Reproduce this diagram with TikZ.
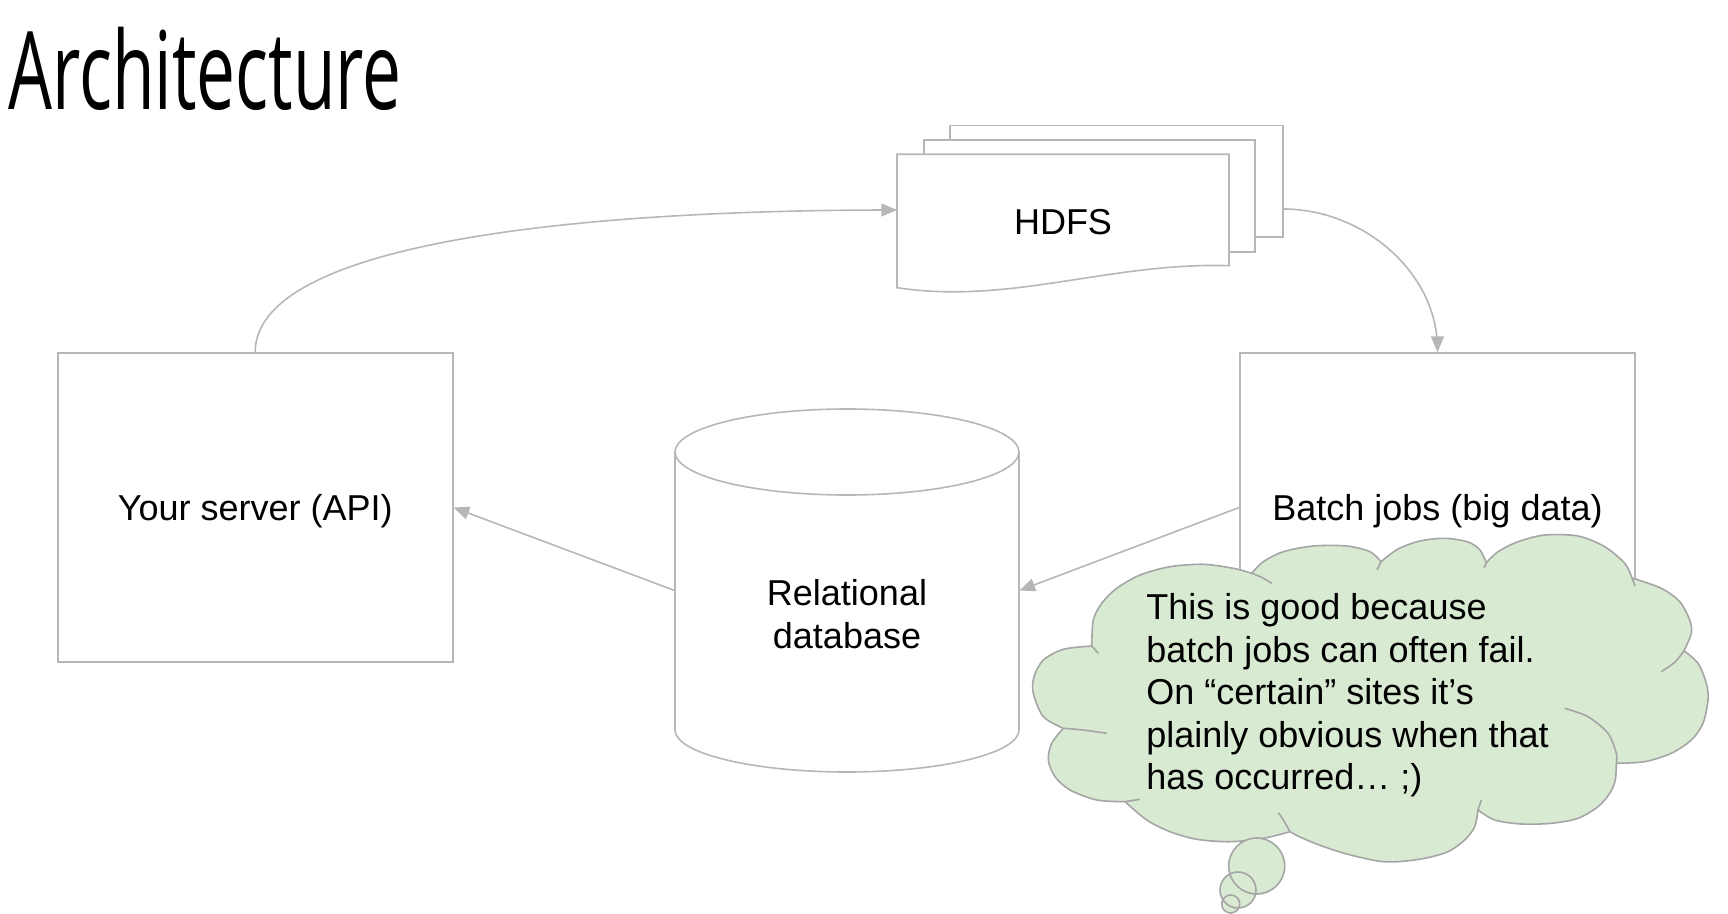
\documentclass[tikz,border=0pt]{standalone}
\usepackage{fontspec}
\setmainfont{Liberation Sans}
\newfontfamily\titlefont[FakeStretch=0.64]{Open Sans}
\usetikzlibrary{arrows}

\definecolor{linegray}{HTML}{B7B7B7}
\definecolor{cloudgray}{HTML}{A5A5A5}
\definecolor{cloudgreen}{HTML}{D9EAD3}

\begin{document}
\begin{tikzpicture}[x=0.5pt, y=0.5pt,
    txt/.style={font=\fontsize{18}{21.2}\selectfont, inner sep=0pt, align=center},
    box/.style={txt, draw=linegray, line width=0.8pt, minimum width=197.5pt, minimum height=154.5pt, text depth=0pt},
    sheet/.style={draw=linegray, fill=white, line width=0.8pt},
    dbshape/.style={inner sep=0pt, minimum width=172pt, minimum height=181.2pt},
    link/.style={draw=linegray, line width=0.8pt, -triangle 45},
    cloudline/.style={draw=cloudgray, line width=0.8pt}]
  \useasboundingbox (0,0) rectangle (1728,-914);

  % Title
  \node[anchor=base west, inner sep=0pt, font=\titlefont\fontsize{54.2}{60}\selectfont] (title) at (8,-110) {Architecture};

  % HDFS, three sheets
  \draw[sheet] (950,-125.7) rectangle (1283,-237); % Back sheet
  \draw[sheet] (924,-140) rectangle (1255,-252); % Middle sheet
  \draw[sheet] (897,-287.7) -- (897,-154.3) -- (1229,-154.3) -- (1229,-265.7)
    .. controls (1110,-262) and (1010,-305) .. cycle; % Front sheet
  \node[txt] (hdfs) at (1063,-222.5) {HDFS};
  \coordinate (hdfs in) at (897,-210);
  \coordinate (hdfs out) at (1283,-209);

  % Server and batch jobs
  \node[box] (server) at (255.2,-507.5) {Your server (API)};
  \node[box] (batch) at (1437.5,-507.5) {Batch jobs (big data)};

  % Relational database
  \node[dbshape] (db) at (847,-590.5) {};
  \draw[sheet] (675,-452) -- (675,-730) arc[start angle=180, end angle=360, x radius=172, y radius=42] -- (1019,-452);
  \draw[sheet] (847,-452) ellipse [x radius=172, y radius=43];
  \node[txt] (dbtext) at (847,-614) {Relational\\database};

  % Routings
  \draw[link] (server.north) .. controls +(0,104.5) and +(-347,0) .. (hdfs in); % Into HDFS
  \draw[link] (hdfs out) .. controls +(80,0) and +(0,80) .. (batch.north); % HDFS to batch jobs
  \draw[link] (batch.west) -- (db.east); % Batch jobs to database
  \draw[link] (db.west) -- (server.east); % Database to server

  % Thought cloud
  \filldraw[cloudline, fill=cloudgreen]
    plot[smooth] coordinates {(1091.7,-646) (1093.3,-620) (1101.7,-603.3) (1116.7,-588.3) (1140,-575) (1170,-566.7) (1203.3,-564.3) (1233.3,-568.3) (1251.7,-573.3)}
    -- plot[smooth] coordinates {(1251.7,-573.3) (1263.3,-561.7) (1283.3,-551.7) (1313.3,-546) (1346.7,-546) (1370,-551.7) (1381,-561.7)}
    -- plot[smooth] coordinates {(1381,-561.7) (1398,-549) (1420,-541) (1445,-538.3) (1468,-542) (1480,-550) (1486.3,-562.7)}
    -- plot[smooth] coordinates {(1486.3,-562.7) (1498,-551.7) (1518,-541.7) (1544.7,-535) (1578,-536) (1604.7,-546.7) (1624.7,-563.3) (1632,-578)}
    -- plot[smooth] coordinates {(1632,-578) (1661.3,-588.3) (1679.7,-601.7) (1689.7,-620) (1691.3,-633.3) (1684,-650.7)}
    -- plot[smooth] coordinates {(1684,-650.7) (1698,-663.3) (1706.3,-683.3) (1708,-700) (1703,-723.3) (1691.3,-740) (1671.3,-753.3) (1644.7,-761.7) (1616.3,-763.3)}
    -- plot[smooth] coordinates {(1616.3,-763.3) (1615.3,-780) (1609.7,-793.3) (1598,-806.7) (1578,-818.3) (1551.3,-823.3) (1521.3,-824) (1494.7,-820) (1478,-810)}
    -- plot[smooth] coordinates {(1478,-810) (1474.7,-826.7) (1464.7,-840) (1448,-851.7) (1424.7,-858.3) (1398,-861.7) (1378,-861) (1346.7,-854) (1320,-845.3) (1300,-837) (1290,-831.7)}
    -- plot[smooth] coordinates {(1290,-831.7) (1263.3,-838.3) (1230,-841.7) (1196.7,-839.3) (1170,-831.7) (1146.7,-820) (1125,-801.7)}
    -- plot[smooth] coordinates {(1125,-801.7) (1096.7,-800) (1070,-790) (1055,-776.7) (1048.3,-760) (1051.7,-743.3) (1063.3,-728.3)}
    -- plot[smooth] coordinates {(1063.3,-728.3) (1043.3,-716.7) (1033.3,-693.3) (1034,-676.7) (1043.3,-660) (1063.3,-649.3) (1091.7,-646)}
    -- cycle;
  % Inner folds of the cloud
  \draw[cloudline] plot[smooth] coordinates {(1251.7,-573.3) (1262,-577.5) (1271.7,-583.3)};
  \draw[cloudline] (1381,-561.7) -- (1377,-570);
  \draw[cloudline] (1486.3,-562.7) -- (1484,-568);
  \draw[cloudline] (1632,-578) -- (1635,-586);
  \draw[cloudline] plot[smooth] coordinates {(1684,-650.7) (1675,-662) (1661.3,-671.7)};
  \draw[cloudline] plot[smooth] coordinates {(1616.3,-763.3) (1616.3,-753.3) (1608,-733.3) (1588,-716.7) (1564.7,-708.3)};
  \draw[cloudline] (1478,-810) -- (1481.3,-800);
  \draw[cloudline] plot[smooth] coordinates {(1290,-831.7) (1283.3,-820) (1278.3,-812.7)};
  \draw[cloudline] (1125,-801.7) -- (1140,-799.3);
  \draw[cloudline] plot[smooth] coordinates {(1063.3,-728.3) (1083.3,-730) (1106.7,-733.3)};
  \draw[cloudline] (1091.7,-646) -- (1098.3,-653.3);

  % Bubbles under the cloud
  \fill[cloudgreen] (1256.7,-866) circle (28) (1238,-890) circle (18) (1230.7,-904) circle (9);
  \draw[cloudline] (1256.7,-866) circle (28) (1238,-890) circle (18) (1230.7,-904) circle (9);

  \node[txt, align=left, anchor=north west] (note) at (1146,-593.5) {This is good because\\batch jobs can often fail.\\On “certain” sites it’s\\plainly obvious when that\\has occurred… ;)};

\end{tikzpicture}
\end{document}
